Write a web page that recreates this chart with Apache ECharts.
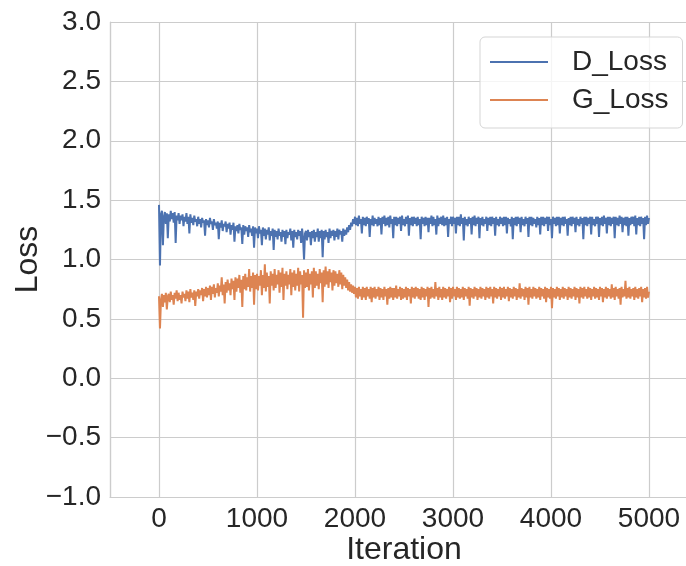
<!DOCTYPE html>
<html>
<head>
<meta charset="utf-8">
<script src="https://cdn.jsdelivr.net/npm/echarts@6/dist/echarts.min.js"></script>
<style>
  html, body { margin: 0; padding: 0; background: #ffffff; }
  #chart { width: 686px; height: 566px; }
</style>
</head>
<body>
<div id="chart"></div>
<script>
// Training losses, logged every ITER_STEP iterations (0 .. 5000)
const ITER_STEP = 10;

const seriesNames = ['D_Loss', 'G_Loss'];

// Discriminator loss, one row per 100 iterations
const dLoss = [
  1.46, 0.95, 1.38, 1.41, 1.12, 1.36, 1.40, 1.30, 1.39, 1.18,
  1.38, 1.32, 1.41, 1.34, 1.39, 1.31, 1.40, 1.14, 1.37, 1.33,
  1.39, 1.30, 1.37, 1.33, 1.38, 1.28, 1.36, 1.32, 1.39, 1.30,
  1.36, 1.22, 1.38, 1.31, 1.35, 1.29, 1.37, 1.32, 1.34, 1.28,
  1.36, 1.30, 1.34, 1.27, 1.35, 1.31, 1.33, 1.20, 1.34, 1.29,
  1.33, 1.27, 1.35, 1.30, 1.32, 1.25, 1.34, 1.29, 1.31, 1.26,
  1.32, 1.17, 1.31, 1.27, 1.33, 1.24, 1.30, 1.28, 1.32, 1.23,
  1.30, 1.26, 1.31, 1.21, 1.29, 1.25, 1.31, 1.15, 1.28, 1.24,
  1.29, 1.22, 1.30, 1.25, 1.27, 1.13, 1.29, 1.21, 1.28, 1.24,
  1.27, 1.19, 1.29, 1.23, 1.26, 1.20, 1.28, 1.10, 1.27, 1.22,
  1.26, 1.18, 1.28, 1.22, 1.25, 1.12, 1.27, 1.20, 1.26, 1.17,
  1.25, 1.21, 1.27, 1.16, 1.24, 1.20, 1.26, 1.08, 1.25, 1.19,
  1.24, 1.17, 1.26, 1.20, 1.23, 1.15, 1.25, 1.19, 1.24, 1.13,
  1.25, 1.18, 1.23, 1.21, 1.26, 1.16, 1.24, 1.10, 1.25, 1.19,
  1.23, 1.17, 1.25, 1.20, 1.24, 1.14, 1.26, 1.18, 1.00, 1.22,
  1.24, 1.16, 1.25, 1.19, 1.23, 1.12, 1.24, 1.18, 1.25, 1.15,
  1.23, 1.19, 1.26, 1.15, 1.24, 1.18, 1.25, 1.02, 1.24, 1.17,
  1.25, 1.19, 1.23, 1.14, 1.26, 1.18, 1.24, 1.20, 1.25, 1.16,
  1.24, 1.19, 1.26, 1.17, 1.25, 1.21, 1.24, 1.15, 1.26, 1.20,
  1.25, 1.21, 1.27, 1.23, 1.29, 1.25, 1.31, 1.28, 1.34, 1.30,
  1.36, 1.29, 1.35, 1.28, 1.37, 1.30, 1.34, 1.22, 1.36, 1.29,
  1.35, 1.28, 1.36, 1.30, 1.35, 1.19, 1.34, 1.29, 1.37, 1.28,
  1.35, 1.30, 1.34, 1.28, 1.36, 1.29, 1.35, 1.21, 1.36, 1.30,
  1.37, 1.28, 1.35, 1.29, 1.36, 1.27, 1.37, 1.30, 1.34, 1.18,
  1.36, 1.29, 1.36, 1.28, 1.35, 1.30, 1.36, 1.24, 1.37, 1.29,
  1.34, 1.28, 1.36, 1.30, 1.37, 1.20, 1.35, 1.29, 1.36, 1.28,
  1.36, 1.30, 1.35, 1.28, 1.36, 1.29, 1.34, 1.17, 1.36, 1.30,
  1.35, 1.28, 1.36, 1.29, 1.35, 1.23, 1.35, 1.30, 1.37, 1.28,
  1.36, 1.29, 1.34, 1.21, 1.37, 1.28, 1.35, 1.30, 1.36, 1.29,
  1.37, 1.28, 1.35, 1.29, 1.36, 1.19, 1.34, 1.30, 1.36, 1.28,
  1.36, 1.30, 1.35, 1.22, 1.36, 1.29, 1.36, 1.28, 1.38, 1.30,
  1.35, 1.16, 1.36, 1.29, 1.34, 1.28, 1.36, 1.30, 1.35, 1.21,
  1.36, 1.29, 1.37, 1.28, 1.35, 1.30, 1.36, 1.18, 1.35, 1.29,
  1.36, 1.28, 1.34, 1.30, 1.36, 1.24, 1.35, 1.29, 1.36, 1.28,
  1.36, 1.30, 1.35, 1.20, 1.36, 1.29, 1.34, 1.28, 1.36, 1.30,
  1.35, 1.28, 1.36, 1.29, 1.36, 1.22, 1.35, 1.30, 1.34, 1.28,
  1.36, 1.17, 1.35, 1.29, 1.36, 1.28, 1.36, 1.30, 1.35, 1.23,
  1.36, 1.29, 1.34, 1.28, 1.36, 1.30, 1.35, 1.19, 1.36, 1.29,
  1.36, 1.28, 1.35, 1.30, 1.34, 1.27, 1.36, 1.29, 1.35, 1.21,
  1.36, 1.29, 1.36, 1.28, 1.35, 1.30, 1.36, 1.24, 1.36, 1.29,
  1.34, 1.18, 1.36, 1.30, 1.35, 1.28, 1.36, 1.29, 1.36, 1.22,
  1.35, 1.29, 1.36, 1.28, 1.36, 1.30, 1.34, 1.20, 1.35, 1.29,
  1.36, 1.28, 1.36, 1.30, 1.35, 1.23, 1.36, 1.29, 1.34, 1.28,
  1.36, 1.30, 1.35, 1.17, 1.36, 1.29, 1.36, 1.28, 1.35, 1.30,
  1.36, 1.21, 1.36, 1.29, 1.34, 1.28, 1.36, 1.30, 1.36, 1.19,
  1.35, 1.29, 1.36, 1.28, 1.37, 1.30, 1.35, 1.22, 1.36, 1.29,
  1.36, 1.28, 1.35, 1.30, 1.36, 1.18, 1.36, 1.29, 1.35, 1.28,
  1.37, 1.30, 1.36, 1.23, 1.35, 1.29, 1.36, 1.28, 1.36, 1.20,
  1.35, 1.29, 1.36, 1.30, 1.36, 1.28, 1.37, 1.21, 1.35, 1.29,
  1.36, 1.28, 1.36, 1.30, 1.35, 1.17, 1.36, 1.29, 1.37, 1.30,
  1.35
];

// Generator loss, one row per 100 iterations
const gLoss = [
  0.69, 0.42, 0.66, 0.71, 0.60, 0.70, 0.64, 0.72, 0.58, 0.69,
  0.71, 0.64, 0.73, 0.66, 0.70, 0.62, 0.72, 0.67, 0.74, 0.65,
  0.72, 0.66, 0.70, 0.63, 0.73, 0.68, 0.71, 0.65, 0.74, 0.67,
  0.73, 0.64, 0.75, 0.68, 0.72, 0.66, 0.74, 0.61, 0.73, 0.69,
  0.75, 0.67, 0.74, 0.70, 0.76, 0.65, 0.75, 0.69, 0.77, 0.68,
  0.76, 0.70, 0.78, 0.66, 0.77, 0.71, 0.79, 0.68, 0.76, 0.72,
  0.80, 0.69, 0.78, 0.73, 0.85, 0.70, 0.79, 0.63, 0.81, 0.72,
  0.83, 0.74, 0.80, 0.70, 0.84, 0.75, 0.82, 0.66, 0.85, 0.73,
  0.84, 0.76, 0.87, 0.72, 0.83, 0.60, 0.86, 0.75, 0.88, 0.74,
  0.85, 0.77, 0.92, 0.73, 0.86, 0.76, 0.89, 0.62, 0.87, 0.75,
  0.88, 0.74, 0.86, 0.78, 0.91, 0.70, 0.87, 0.76, 0.96, 0.73,
  0.89, 0.77, 0.86, 0.63, 0.90, 0.78, 0.88, 0.74, 0.92, 0.76,
  0.87, 0.79, 0.91, 0.72, 0.89, 0.77, 0.93, 0.66, 0.88, 0.78,
  0.90, 0.75, 0.87, 0.79, 0.92, 0.70, 0.89, 0.77, 0.91, 0.74,
  0.88, 0.78, 0.93, 0.73, 0.90, 0.79, 0.87, 0.51, 0.91, 0.76,
  0.89, 0.77, 0.92, 0.74, 0.88, 0.79, 0.90, 0.68, 0.93, 0.76,
  0.90, 0.78, 0.88, 0.75, 0.92, 0.80, 0.89, 0.64, 0.91, 0.77,
  0.94, 0.79, 0.90, 0.76, 0.92, 0.81, 0.89, 0.74, 0.91, 0.78,
  0.90, 0.80, 0.88, 0.77, 0.91, 0.79, 0.89, 0.75, 0.87, 0.78,
  0.85, 0.76, 0.83, 0.74, 0.81, 0.73, 0.79, 0.72, 0.78, 0.71,
  0.77, 0.68, 0.76, 0.67, 0.77, 0.69, 0.75, 0.66, 0.77, 0.68,
  0.76, 0.66, 0.77, 0.69, 0.75, 0.67, 0.77, 0.64, 0.76, 0.68,
  0.77, 0.67, 0.75, 0.69, 0.77, 0.66, 0.76, 0.68, 0.75, 0.66,
  0.77, 0.69, 0.75, 0.62, 0.76, 0.67, 0.77, 0.68, 0.76, 0.66,
  0.76, 0.68, 0.78, 0.67, 0.75, 0.69, 0.77, 0.66, 0.76, 0.67,
  0.75, 0.68, 0.77, 0.66, 0.76, 0.69, 0.75, 0.63, 0.77, 0.68,
  0.76, 0.67, 0.77, 0.69, 0.76, 0.67, 0.75, 0.66, 0.77, 0.68,
  0.76, 0.66, 0.75, 0.69, 0.77, 0.60, 0.76, 0.67, 0.77, 0.68,
  0.75, 0.67, 0.81, 0.69, 0.76, 0.66, 0.77, 0.68, 0.75, 0.66,
  0.77, 0.68, 0.76, 0.67, 0.75, 0.69, 0.77, 0.64, 0.76, 0.67,
  0.77, 0.69, 0.75, 0.66, 0.77, 0.68, 0.76, 0.67, 0.75, 0.68,
  0.77, 0.66, 0.76, 0.69, 0.75, 0.67, 0.77, 0.61, 0.76, 0.68,
  0.75, 0.67, 0.77, 0.69, 0.76, 0.66, 0.75, 0.68, 0.77, 0.67,
  0.76, 0.69, 0.75, 0.66, 0.77, 0.68, 0.76, 0.67, 0.77, 0.69,
  0.75, 0.63, 0.77, 0.68, 0.76, 0.67, 0.75, 0.69, 0.77, 0.66,
  0.76, 0.68, 0.77, 0.67, 0.75, 0.69, 0.77, 0.65, 0.76, 0.68,
  0.75, 0.67, 0.77, 0.69, 0.76, 0.66, 0.75, 0.68, 0.80, 0.67,
  0.76, 0.69, 0.75, 0.66, 0.77, 0.68, 0.76, 0.62, 0.77, 0.68,
  0.75, 0.67, 0.77, 0.69, 0.76, 0.67, 0.75, 0.68, 0.77, 0.66,
  0.76, 0.69, 0.75, 0.67, 0.77, 0.64, 0.76, 0.68, 0.75, 0.67,
  0.77, 0.59, 0.76, 0.68, 0.75, 0.67, 0.77, 0.69, 0.76, 0.66,
  0.75, 0.68, 0.77, 0.67, 0.76, 0.69, 0.75, 0.66, 0.77, 0.68,
  0.76, 0.67, 0.75, 0.69, 0.77, 0.66, 0.76, 0.68, 0.75, 0.63,
  0.77, 0.68, 0.76, 0.67, 0.77, 0.69, 0.75, 0.67, 0.77, 0.68,
  0.76, 0.66, 0.75, 0.69, 0.77, 0.67, 0.76, 0.68, 0.75, 0.66,
  0.77, 0.69, 0.76, 0.64, 0.75, 0.68, 0.77, 0.67, 0.76, 0.69,
  0.75, 0.67, 0.79, 0.68, 0.76, 0.66, 0.77, 0.69, 0.75, 0.67,
  0.76, 0.62, 0.77, 0.68, 0.75, 0.69, 0.82, 0.67, 0.76, 0.68,
  0.77, 0.67, 0.75, 0.69, 0.76, 0.66, 0.77, 0.68, 0.75, 0.67,
  0.76, 0.69, 0.77, 0.64, 0.75, 0.68, 0.76, 0.67, 0.77, 0.68,
  0.73
];

const seriesColors = ['#4c72b0', '#dd8452'];

const xRange = [-500, 5500];
const yRange = [-1, 3];
const yStep = 0.5;

const FONT = '"Liberation Sans", Arial, sans-serif';
const TEXT = '#262626';
const GRID = '#cccccc';

function toPairs(values) {
  return values.map((v, i) => [i * ITER_STEP, v]);
}

function fmtY(v) {
  const s = Math.abs(v).toFixed(1);
  return v < 0 ? '\u2212' + s : s;
}

const chart = echarts.init(document.getElementById('chart'), null, { renderer: 'canvas' });

chart.setOption({
  animation: false,
  backgroundColor: '#ffffff',
  textStyle: { fontFamily: FONT, color: TEXT },
  // the axes box runs a little past the right edge of the canvas
  grid: {
    left: 110, top: 22, width: 588, height: 475,
    containLabel: false, outerBoundsMode: 'none'
  },
  xAxis: {
    type: 'value',
    min: xRange[0],
    max: xRange[1],
    splitNumber: 6,
    name: 'Iteration',
    nameLocation: 'middle',
    nameGap: 37,
    nameMoveOverlap: false,
    nameTextStyle: { fontSize: 32, color: TEXT, fontFamily: FONT },
    axisLine: { show: true, onZero: false, lineStyle: { color: GRID, width: 1.2 } },
    axisTick: { show: false },
    splitLine: { show: true, lineStyle: { color: GRID, width: 1.2 } },
    axisLabel: {
      fontSize: 28, color: TEXT, fontFamily: FONT, margin: 8,
      showMinLabel: false, showMaxLabel: false,
      formatter: (v) => String(v)
    }
  },
  yAxis: {
    type: 'value',
    min: yRange[0],
    max: yRange[1],
    interval: yStep,
    name: 'Loss',
    nameLocation: 'middle',
    nameGap: 66,
    nameMoveOverlap: false,
    nameRotate: 90,
    nameTextStyle: { fontSize: 32, color: TEXT, fontFamily: FONT },
    axisLine: { show: true, onZero: false, lineStyle: { color: GRID, width: 1.2 } },
    axisTick: { show: false },
    splitLine: { show: true, lineStyle: { color: GRID, width: 1.2 } },
    axisLabel: { fontSize: 28, color: TEXT, fontFamily: FONT, margin: 9, formatter: fmtY }
  },
  legend: {
    orient: 'vertical',
    left: 480,
    top: 37,
    data: seriesNames,
    icon: 'rect',
    itemWidth: 58,
    itemHeight: 2,
    itemGap: 10,
    padding: [11, 14, 14, 10],
    backgroundColor: 'rgba(255,255,255,0.8)',
    borderColor: '#d5d5d5',
    borderWidth: 1,
    borderRadius: 5,
    textStyle: { fontSize: 28, color: TEXT, fontFamily: FONT, padding: [0, 0, 0, 19] }
  },
  series: [
    {
      name: seriesNames[0],
      type: 'line',
      data: toPairs(dLoss),
      showSymbol: false,
      symbol: 'none',
      color: seriesColors[0],
      lineStyle: { color: seriesColors[0], width: 2 },
      z: 3
    },
    {
      name: seriesNames[1],
      type: 'line',
      data: toPairs(gLoss),
      showSymbol: false,
      symbol: 'none',
      color: seriesColors[1],
      lineStyle: { color: seriesColors[1], width: 2 },
      z: 3
    }
  ]
});
</script>
</body>
</html>
